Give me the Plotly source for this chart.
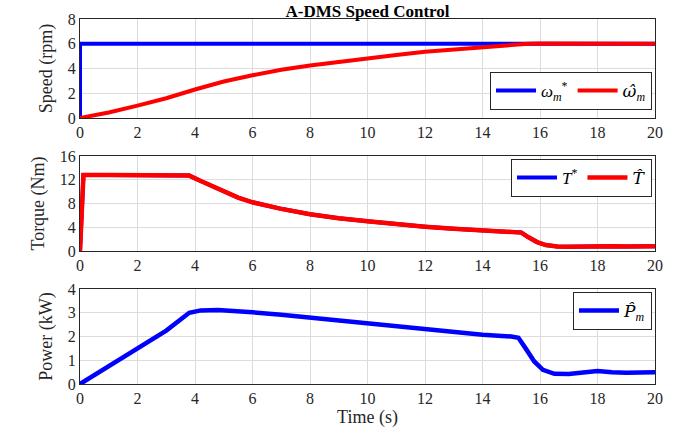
import plotly.graph_objects as go

# ---- data ----
t_ref = [0, 0, 0.02, 20]
speed_ref = [0, 6, 6, 6]

t_speed = [0, 0.5, 1, 2, 3, 4, 5, 6, 7, 8, 9, 10, 11, 12, 13, 14, 15, 15.6, 16, 17, 18, 19, 20]
speed_est = [0, 0.2, 0.45, 1.0, 1.6, 2.3, 2.95, 3.45, 3.9, 4.25, 4.55, 4.85, 5.1, 5.35, 5.55, 5.75, 5.92, 6.0, 6.02, 6.0, 6.0, 6.0, 6.0]

t_torque = [0, 0.12, 1, 2, 3, 3.8, 4.2, 4.6, 5, 5.5, 6, 7, 8, 9, 10, 11, 12, 13, 14, 15, 15.35, 15.6, 15.9, 16.2, 16.6, 17, 17.5, 18, 18.5, 19, 20]
torque = [0, 12.8, 12.8, 12.8, 12.8, 12.7, 11.8, 10.9, 10.0, 9.0, 8.2, 7.1, 6.2, 5.5, 5.0, 4.5, 4.1, 3.75, 3.45, 3.25, 3.1, 2.3, 1.5, 1.0, 0.75, 0.7, 0.75, 0.85, 0.8, 0.75, 0.8]

t_power = [0, 1, 2, 3, 3.8, 4.2, 4.8, 5.5, 6, 7, 8, 9, 10, 11, 12, 13, 14, 15, 15.25, 15.5, 15.8, 16.1, 16.5, 17, 17.5, 18, 18.5, 19, 20]
power = [0, 0.75, 1.5, 2.25, 3.0, 3.1, 3.12, 3.08, 3.02, 2.92, 2.8, 2.68, 2.55, 2.42, 2.3, 2.18, 2.07, 2.0, 1.95, 1.5, 0.95, 0.6, 0.43, 0.42, 0.48, 0.55, 0.5, 0.47, 0.5]

x_ticks = list(range(0, 21, 2))

BLUE = "#0000ff"
RED = "#ff0000"
FONT = "Liberation Serif, Times New Roman, serif"
HAT = "<span style='font-family:DejaVu Serif'><i>{}</i></span>"

fig = go.Figure()

fig.add_trace(go.Scatter(x=t_ref, y=speed_ref, mode="lines", line=dict(color=BLUE, width=4),
                         name="<i>ω</i><sub><i>m</i></sub><sup>*</sup>", xaxis="x", yaxis="y", legend="legend"))
fig.add_trace(go.Scatter(x=t_speed, y=speed_est, mode="lines", line=dict(color=RED, width=4),
                         name=HAT.format("ω̂") + "<sub><i>m</i></sub>", xaxis="x", yaxis="y", legend="legend"))

fig.add_trace(go.Scatter(x=t_torque, y=torque, mode="lines", line=dict(color=BLUE, width=4),
                         name="<i>T</i><sup>*</sup>", xaxis="x2", yaxis="y2", legend="legend2"))
fig.add_trace(go.Scatter(x=t_torque, y=torque, mode="lines", line=dict(color=RED, width=4.5),
                         name=HAT.format("T̂"), xaxis="x2", yaxis="y2", legend="legend2"))

fig.add_trace(go.Scatter(x=t_power, y=power, mode="lines", line=dict(color=BLUE, width=4.5),
                         name=HAT.format("P̂") + "<sub><i>m</i></sub>", xaxis="x3", yaxis="y3", legend="legend3"))

xdom = [80 / 681, 655 / 681]
def ydom(top_px, bot_px):
    return [1 - bot_px / 436, 1 - top_px / 436]

axis_common = dict(showgrid=True, gridcolor="#dcdcdc", gridwidth=1, showline=True, linecolor="#262626",
                   linewidth=1, mirror=True, ticks="", zeroline=False, automargin=False,
                   tickfont=dict(family=FONT, size=16, color="#262626"))

legend_common = dict(orientation="h", bgcolor="white", bordercolor="#262626", borderwidth=1,
                     font=dict(family=FONT, size=17, color="black"), itemwidth=40)

fig.update_layout(
    width=681, height=436,
    margin=dict(l=0, r=0, t=0, b=0, autoexpand=False),
    paper_bgcolor="white", plot_bgcolor="white",
    font=dict(family=FONT, color="#262626"),
    title=dict(text="<b>A-DMS Speed Control</b>", x=(80 + 655) / 2 / 681, xanchor="center",
               y=1 - 11 / 436, yanchor="middle", font=dict(family=FONT, size=17, color="black")),
    xaxis=dict(domain=xdom, range=[0, 20], tickvals=x_ticks, anchor="y", **axis_common),
    yaxis=dict(domain=ydom(19, 118), range=[0, 8], tickvals=[0, 2, 4, 6, 8], anchor="x",
               title=dict(text="Speed (rpm)", font=dict(family=FONT, size=18), standoff=10), **axis_common),
    xaxis2=dict(domain=xdom, range=[0, 20], tickvals=x_ticks, anchor="y2", **axis_common),
    yaxis2=dict(domain=ydom(156, 251), range=[0, 16], tickvals=[0, 4, 8, 12, 16], anchor="x2",
                title=dict(text="Torque (Nm)", font=dict(family=FONT, size=18), standoff=10), **axis_common),
    xaxis3=dict(domain=xdom, range=[0, 20], tickvals=x_ticks, anchor="y3",
                title=dict(text="Time (s)", font=dict(family=FONT, size=18), standoff=4), **axis_common),
    yaxis3=dict(domain=ydom(289, 384), range=[0, 4], tickvals=[0, 1, 2, 3, 4], anchor="x3",
                title=dict(text="Power (kW)", font=dict(family=FONT, size=18), standoff=10), **axis_common),
    legend=dict(x=652 / 681, xanchor="right", y=1 - 110 / 436, yanchor="bottom", **legend_common),
    legend2=dict(x=652 / 681, xanchor="right", y=1 - 159 / 436, yanchor="top", **legend_common),
    legend3=dict(x=652 / 681, xanchor="right", y=1 - 292 / 436, yanchor="top", **legend_common),
    showlegend=True,
)

fig.write_html("out.html", config={"displayModeBar": False},
               post_script="document.body.style.margin='0';document.body.style.overflow='hidden';")
